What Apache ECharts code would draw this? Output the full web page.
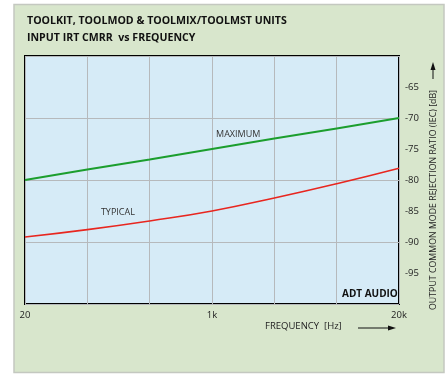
<!DOCTYPE html>
<html>
<head>
<meta charset="utf-8">
<script src="https://cdn.jsdelivr.net/npm/echarts@6/dist/echarts.min.js"></script>
<style>
  html, body { margin: 0; padding: 0; background: #ffffff; }
  #chart { width: 446px; height: 376px; }
</style>
</head>
<body>
<div id="chart"></div>
<script>
// Frequency grid positions (half-decade style divisions) and their labels
const freqLabels = ['20', '', '', '1k', '', '', '20k'];
// CMRR in dB at each grid position
const maximumCmrr = [-80, -78.3, -76.7, -75, -73.3, -71.7, -70];
const typicalCmrr = [-89.2, -88.0, -86.6, -85.0, -82.9, -80.6, -78.1];

const toPoints = vals => vals.map((v, i) => [i, v]);

const FONT = '"Open Sans", "Liberation Sans", sans-serif';

const chart = echarts.init(document.getElementById('chart'), null, { renderer: 'canvas' });

chart.setOption({
  animation: false,
  backgroundColor: '#ffffff',
  title: {
    text: 'TOOLKIT, TOOLMOD & TOOLMIX/TOOLMST UNITS\nINPUT IRT CMRR  vs FREQUENCY',
    left: 27,
    top: 12,
    padding: 0,
    textStyle: { fontFamily: FONT, fontSize: 10.6, fontWeight: 'bold', color: '#111', lineHeight: 17 }
  },
  graphic: [
    {
      type: 'rect', z: -10, silent: true,
      shape: { x: 14, y: 4.5, width: 430, height: 368 },
      style: { fill: '#d8e6cc', stroke: '#c4c8c0', lineWidth: 1.5 }
    },
    {
      type: 'text', left: 342, top: 289, z: 10,
      style: { text: 'ADT AUDIO', font: 'bold 10px ' + FONT, fill: '#111' }
    },
    {
      type: 'text', left: 265, top: 321,
      style: { text: 'FREQUENCY  [Hz]', font: '9.5px ' + FONT, fill: '#222' }
    },
    {
      type: 'line', shape: { x1: 358, y1: 328, x2: 390, y2: 328 },
      style: { stroke: '#111', lineWidth: 1 }
    },
    {
      type: 'polygon', shape: { points: [[396, 328], [388, 325.5], [388, 330.5]] },
      style: { fill: '#111' }
    },
    {
      type: 'text', x: 433, y: 200, rotation: Math.PI / 2,
      style: {
        text: 'OUTPUT COMMON MODE REJECTION RATIO (IEC) [dB]',
        font: '8.8px ' + FONT, fill: '#222', align: 'center', verticalAlign: 'middle'
      }
    },
    {
      type: 'line', shape: { x1: 433, y1: 79, x2: 433, y2: 68 },
      style: { stroke: '#111', lineWidth: 1 }
    },
    {
      type: 'polygon', shape: { points: [[433, 62], [430.5, 70], [435.5, 70]] },
      style: { fill: '#111' }
    }
  ],
  grid: {
    left: 25, right: 47, top: 56, bottom: 72,
    show: true, backgroundColor: '#d6ebf7', borderColor: '#000', borderWidth: 2
  },
  xAxis: {
    type: 'value', min: 0, max: 6, interval: 1,
    axisLine: { show: false }, axisTick: { show: false },
    splitLine: { show: true, lineStyle: { color: '#b6b9bc', width: 1 } },
    axisLabel: {
      margin: 6, fontFamily: FONT, fontSize: 9.5, color: '#222',
      formatter: v => freqLabels[v] || ''
    }
  },
  yAxis: [
    {
      type: 'value', position: 'right', min: -100, max: -60, interval: 5,
      axisLine: { show: false }, axisTick: { show: false }, splitLine: { show: false },
      axisLabel: { margin: 6, fontFamily: FONT, fontSize: 9.5, color: '#222', showMinLabel: false, showMaxLabel: false }
    },
    {
      type: 'value', position: 'left', min: -100, max: -60, interval: 10,
      axisLine: { show: false }, axisTick: { show: false }, axisLabel: { show: false },
      splitLine: { show: true, lineStyle: { color: '#b6b9bc', width: 1 } }
    }
  ],
  series: [
    {
      name: 'MAXIMUM', type: 'line', yAxisIndex: 0, smooth: true,
      data: toPoints(maximumCmrr), showSymbol: false,
      lineStyle: { color: '#1c9e2e', width: 2 },
      markPoint: {
        symbolSize: 0,
        label: { show: true, formatter: 'MAXIMUM', fontFamily: FONT, fontSize: 9, color: '#333' },
        data: [{ coord: [3.42, -72.6] }]
      }
    },
    {
      name: 'TYPICAL', type: 'line', yAxisIndex: 0, smooth: true,
      data: toPoints(typicalCmrr), showSymbol: false,
      lineStyle: { color: '#e8261f', width: 1.6 },
      markPoint: {
        symbolSize: 0,
        label: { show: true, formatter: 'TYPICAL', fontFamily: FONT, fontSize: 9, color: '#333' },
        data: [{ coord: [1.49, -85.2] }]
      }
    }
  ]
});
</script>
</body>
</html>
